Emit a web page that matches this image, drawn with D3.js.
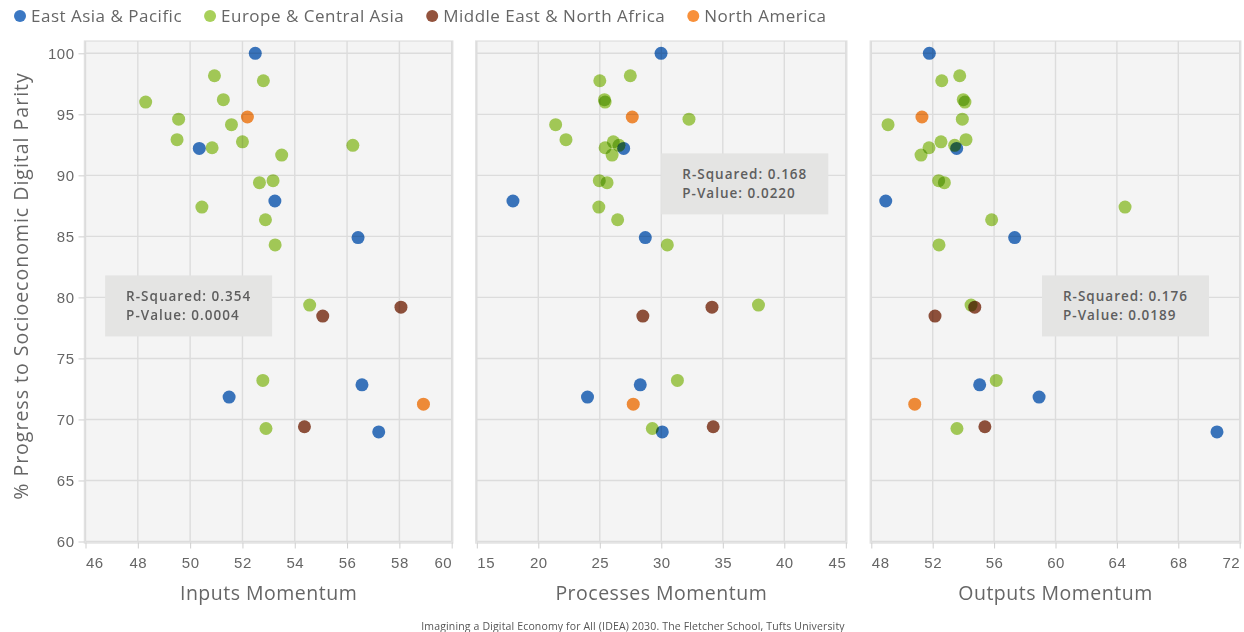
<!DOCTYPE html>
<html>
<head>
<meta charset="utf-8">
<script src="https://cdn.jsdelivr.net/npm/d3@7"></script>
<style>
  body { margin: 0; background: #fff; }
  svg { font-family: "Open Sans", sans-serif; }
  .dot { mix-blend-mode: multiply; }
</style>
</head>
<body>
<svg id="vis-svg" width="1244" height="632"></svg>
<script>
var width = 1244;
var height = 632;

// regions and colours
const regions = ["East Asia & Pacific", "Europe & Central Asia", "Middle East & North Africa", "North America"];
const regionColors = ["#3b78c3", "#a8d05a", "#93533d", "#f8903a"];

// one entry per country (region index into regions)
const region = [0, 0, 0, 0, 0, 0, 0,
                3, 3,
                2, 2, 2,
                1, 1, 1, 1, 1, 1, 1, 1, 1, 1, 1, 1, 1, 1, 1, 1, 1, 1, 1];
const parity = [100, 92.21, 87.9, 84.9, 72.84, 71.83, 68.98,
                94.78, 71.25,
                79.2, 78.47, 69.4,
                98.16, 97.75, 96.2, 96.0, 94.6, 94.15, 92.92, 92.75, 92.46, 92.26, 91.66,
                89.56, 89.4, 87.4, 86.36, 84.3, 79.37, 73.2, 69.26];
const inputsMomentum = [52.49, 50.35, 53.24, 56.42, 56.57, 51.49, 57.21,
                        52.19, 58.92,
                        58.06, 55.07, 54.37,
                        50.93, 52.8, 51.27, 48.3, 49.56, 51.58, 49.5, 52.0, 56.22, 50.84, 53.5,
                        53.17, 52.65, 50.45, 52.88, 53.25, 54.57, 52.78, 52.9];
const processesMomentum = [29.98, 26.94, 17.94, 28.7, 28.29, 24.0, 30.08,
                           27.64, 27.72,
                           34.12, 28.5, 34.22,
                           27.48, 25.0, 25.38, 25.43, 32.25, 21.41, 22.25, 26.1, 26.56, 25.43, 26.0,
                           24.96, 25.59, 24.92, 26.45, 30.49, 37.9, 31.31, 29.27];
const outputsMomentum = [51.78, 53.56, 48.94, 57.34, 55.06, 58.93, 70.52,
                         51.3, 50.83,
                         54.74, 52.15, 55.4,
                         53.76, 52.59, 53.99, 54.1, 53.93, 49.09, 54.17, 52.54, 53.43, 51.76, 51.24,
                         52.39, 52.76, 64.53, 55.84, 52.41, 54.5, 56.14, 53.58];

// panel setup
const panelTitles = ["Inputs Momentum", "Processes Momentum", "Outputs Momentum"];
const panelDomains = [[46, 60], [15, 45], [48, 72]];
const panelTicks = [d3.range(46, 61, 2), d3.range(15, 46, 5), d3.range(48, 73, 4)];
const panelValues = [inputsMomentum, processesMomentum, outputsMomentum];
const rSquared = ["0.354", "0.168", "0.176"];
const pValue = ["0.0004", "0.0220", "0.0189"];
const yTicks = d3.range(60, 101, 5);

const panelRanges = [[85.5, 451.7], [476.8, 845.8], [871.3, 1239.7]];
// stat box position in data units [x, y top]
const statBoxAt = [[46.75, 81.8], [30.0, 91.8], [59.12, 81.8]];

const svg = d3.select("#vis-svg");
const y = d3.scaleLinear().domain([60, 100]).range([541.5, 53.3]);
const textColor = "#666";

panelTitles.forEach((title, p) => {
  const x = d3.scaleLinear().domain(panelDomains[p]).range(panelRanges[p]);
  const g = svg.append("g");
  const x0 = x.range()[0], x1 = x.range()[1];

  // background
  g.append("rect")
    .attr("x", x0 - 1).attr("y", y(101))
    .attr("width", x1 - x0 + 2).attr("height", y(60) - y(101) + 1.5)
    .attr("fill", "#f4f4f4")
    .attr("stroke", "#e3e3e3").attr("stroke-width", 1.5);

  // grid
  g.selectAll(".vg").data(panelTicks[p]).enter().append("line")
    .attr("x1", d => x(d)).attr("x2", d => x(d))
    .attr("y1", y(101)).attr("y2", y(60))
    .attr("stroke", "#dcdcdc").attr("stroke-width", 1.4);
  g.selectAll(".hg").data(yTicks).enter().append("line")
    .attr("x1", x0).attr("x2", x1)
    .attr("y1", d => y(d)).attr("y2", d => y(d))
    .attr("stroke", "#dcdcdc").attr("stroke-width", 1.4);

  // x axis
  const xAxis = g.append("g")
    .attr("transform", `translate(0,${y(60) + 1})`)
    .call(d3.axisBottom(x).tickValues(panelTicks[p]).tickSize(6).tickPadding(9).tickFormat(d3.format("d")));
  xAxis.select(".domain").remove();
  xAxis.selectAll("line").attr("stroke", "#cfcfcf");
  xAxis.selectAll("text").attr("fill", textColor)
    .style("font-size", "15px").style("letter-spacing", "0.5px")
    .attr("text-anchor", (d, i, n) => i == 0 ? "start" : (i == n.length - 1 ? "end" : "middle"));

  // stat box
  const bx = x(statBoxAt[p][0]), by = y(statBoxAt[p][1]);
  g.append("rect").attr("x", bx).attr("y", by).attr("width", 167).attr("height", 61).attr("fill", "#e4e4e3");
  const st = g.append("text").attr("fill", "#5e5e5e")
    .style("font-size", "13.5px").style("font-weight", 600).style("letter-spacing", "1px");
  st.append("tspan").attr("x", bx + 21).attr("y", by + 26).text("R-Squared: " + rSquared[p]);
  st.append("tspan").attr("x", bx + 21).attr("dy", 18.5).text("P-Value: " + pValue[p]);

  // dots
  g.selectAll(".dot").data(parity).enter().append("circle")
    .attr("class", "dot")
    .attr("cx", (d, i) => x(panelValues[p][i]))
    .attr("cy", d => y(d))
    .attr("r", 6.5)
    .attr("fill", (d, i) => regionColors[region[i]]);

  // title
  svg.append("text")
    .attr("x", (x0 + x1) / 2).attr("y", 600)
    .attr("text-anchor", "middle").attr("fill", textColor)
    .style("font-size", "19.5px").style("letter-spacing", "0.5px")
    .text(title);
});

// y axis (first panel only)
const yAxis = svg.append("g")
  .attr("transform", `translate(${panelRanges[0][0] - 1},0)`)
  .call(d3.axisLeft(y).tickValues(yTicks).tickSize(6).tickPadding(4));
yAxis.select(".domain").remove();
yAxis.selectAll("line").attr("stroke", "#cfcfcf");
yAxis.selectAll("text").attr("fill", textColor).style("font-size", "15px").style("letter-spacing", "0.5px");

svg.append("text")
  .attr("transform", "translate(28,286) rotate(-90)")
  .attr("text-anchor", "middle").attr("fill", textColor)
  .style("font-size", "19.5px").style("letter-spacing", "1px")
  .text("% Progress to Socioeconomic Digital Parity");

// legend
let lx = 20;
regions.forEach((r, i) => {
  svg.append("circle").attr("cx", lx).attr("cy", 16).attr("r", 6).attr("fill", regionColors[i]);
  const t = svg.append("text").attr("x", lx + 11).attr("y", 22)
    .attr("fill", textColor).style("font-size", "17px").style("letter-spacing", "0.5px").text(r);
  lx = lx + 11 + t.node().getComputedTextLength() + 28;
});

// footer
svg.append("text")
  .attr("x", 633).attr("y", 630)
  .attr("text-anchor", "middle").attr("fill", "#555")
  .style("font-size", "10.5px").style("letter-spacing", "0.15px")
  .text("Imagining a Digital Economy for All (IDEA) 2030. The Fletcher School, Tufts University");
</script>
</body>
</html>
